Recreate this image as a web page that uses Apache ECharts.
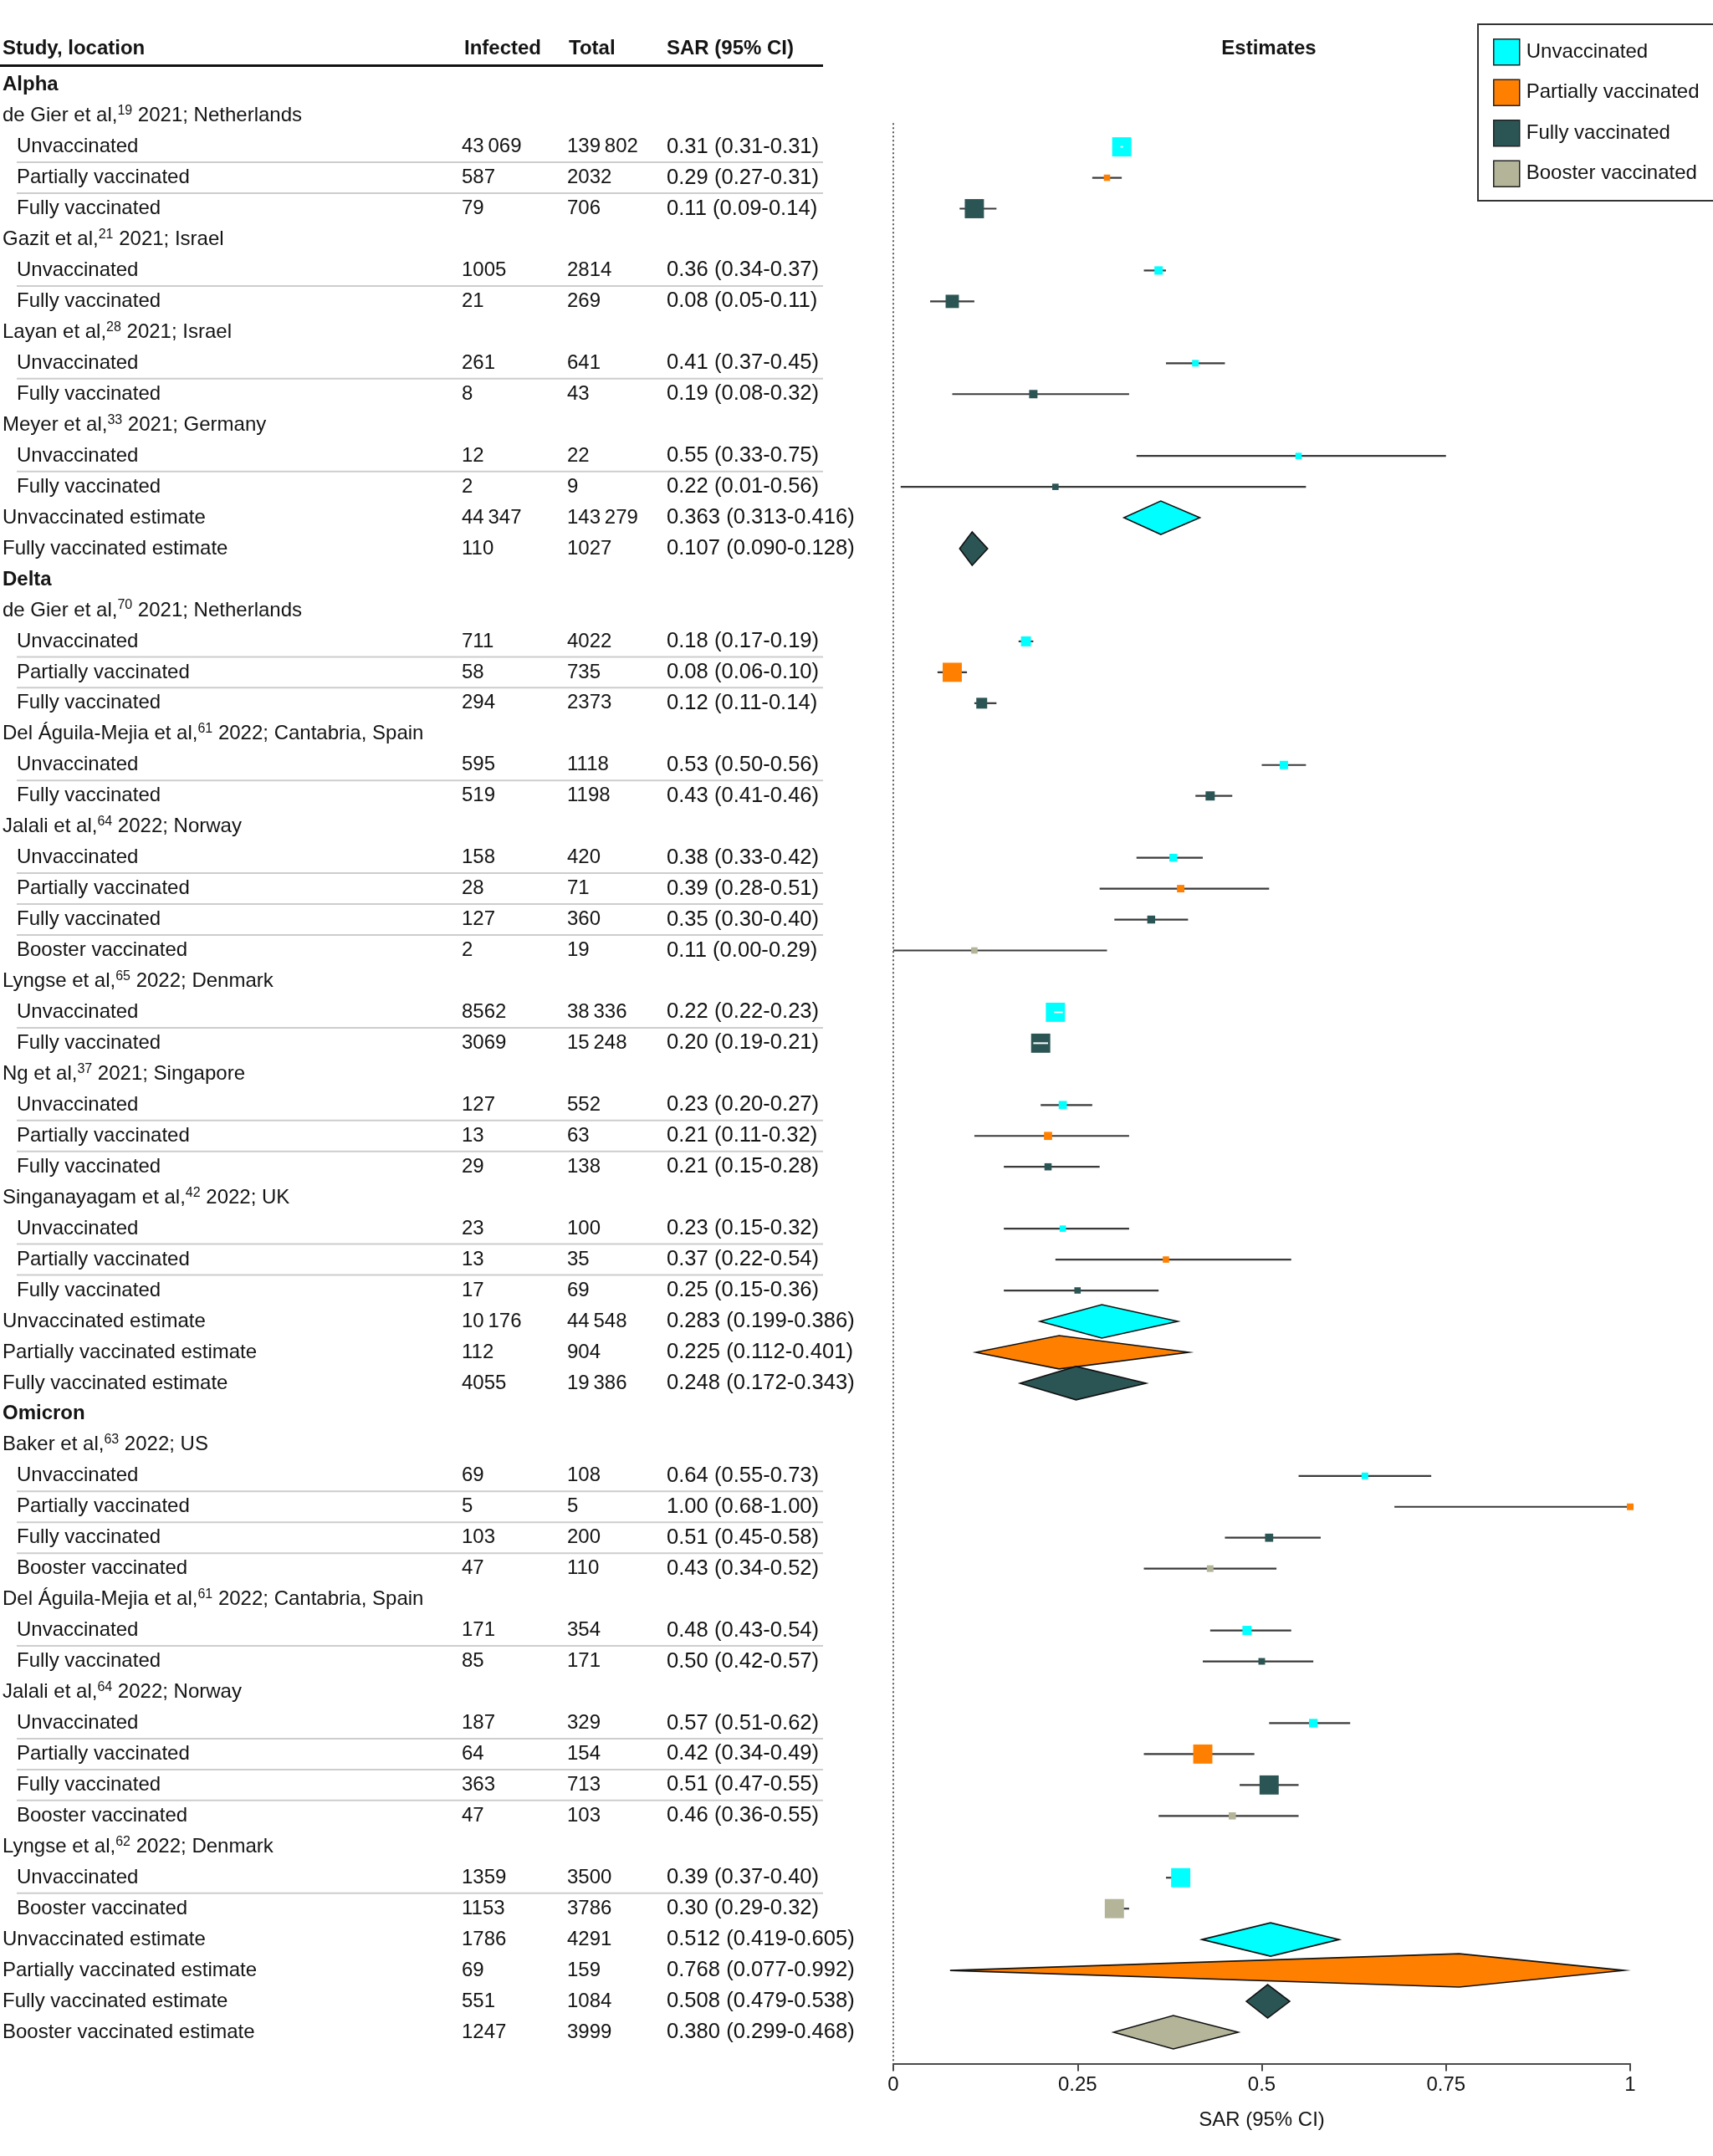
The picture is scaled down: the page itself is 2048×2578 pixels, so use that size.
<!DOCTYPE html>
<html><head><meta charset="utf-8">
<script src="https://cdn.jsdelivr.net/npm/echarts@6/dist/echarts.min.js"></script>
<style>html,body{margin:0;padding:0;background:#fff}#c{width:2048px;height:2578px}</style>
</head><body><div id="c"></div>
<script>
// ---------- DATA ----------
const rowKind = [
  'variant','study','sub','sub','sub','study','sub','sub','study','sub','sub','study','sub','sub','est','est',
  'variant','study','sub','sub','sub','study','sub','sub','study','sub','sub','sub','sub','study','sub','sub','study','sub','sub','sub','study','sub','sub','sub','est','est','est',
  'variant','study','sub','sub','sub','sub','study','sub','sub','study','sub','sub','sub','sub','study','sub','sub','est','est','est','est'
];
const rowLabel = [
  'Alpha',
  'de Gier et al,|19| 2021; Netherlands',
  'Unvaccinated','Partially vaccinated','Fully vaccinated',
  'Gazit et al,|21| 2021; Israel',
  'Unvaccinated','Fully vaccinated',
  'Layan et al,|28| 2021; Israel',
  'Unvaccinated','Fully vaccinated',
  'Meyer et al,|33| 2021; Germany',
  'Unvaccinated','Fully vaccinated',
  'Unvaccinated estimate','Fully vaccinated estimate',
  'Delta',
  'de Gier et al,|70| 2021; Netherlands',
  'Unvaccinated','Partially vaccinated','Fully vaccinated',
  'Del Águila-Mejia et al,|61| 2022; Cantabria, Spain',
  'Unvaccinated','Fully vaccinated',
  'Jalali et al,|64| 2022; Norway',
  'Unvaccinated','Partially vaccinated','Fully vaccinated','Booster vaccinated',
  'Lyngse et al,|65| 2022; Denmark',
  'Unvaccinated','Fully vaccinated',
  'Ng et al,|37| 2021; Singapore',
  'Unvaccinated','Partially vaccinated','Fully vaccinated',
  'Singanayagam et al,|42| 2022; UK',
  'Unvaccinated','Partially vaccinated','Fully vaccinated',
  'Unvaccinated estimate','Partially vaccinated estimate','Fully vaccinated estimate',
  'Omicron',
  'Baker et al,|63| 2022; US',
  'Unvaccinated','Partially vaccinated','Fully vaccinated','Booster vaccinated',
  'Del Águila-Mejia et al,|61| 2022; Cantabria, Spain',
  'Unvaccinated','Fully vaccinated',
  'Jalali et al,|64| 2022; Norway',
  'Unvaccinated','Partially vaccinated','Fully vaccinated','Booster vaccinated',
  'Lyngse et al,|62| 2022; Denmark',
  'Unvaccinated','Booster vaccinated',
  'Unvaccinated estimate','Partially vaccinated estimate','Fully vaccinated estimate','Booster vaccinated estimate'
];
const infected = [
  '','','43\u2009069','587','79','','1005','21','','261','8','','12','2','44\u2009347','110',
  '','','711','58','294','','595','519','','158','28','127','2','','8562','3069','','127','13','29','','23','13','17','10\u2009176','112','4055',
  '','','69','5','103','47','','171','85','','187','64','363','47','','1359','1153','1786','69','551','1247'
];
const total = [
  '','','139\u2009802','2032','706','','2814','269','','641','43','','22','9','143\u2009279','1027',
  '','','4022','735','2373','','1118','1198','','420','71','360','19','','38\u2009336','15\u2009248','','552','63','138','','100','35','69','44\u2009548','904','19\u2009386',
  '','','108','5','200','110','','354','171','','329','154','713','103','','3500','3786','4291','159','1084','3999'
];
const sarText = [
  '','','0.31 (0.31-0.31)','0.29 (0.27-0.31)','0.11 (0.09-0.14)','','0.36 (0.34-0.37)','0.08 (0.05-0.11)','','0.41 (0.37-0.45)','0.19 (0.08-0.32)','','0.55 (0.33-0.75)','0.22 (0.01-0.56)','0.363 (0.313-0.416)','0.107 (0.090-0.128)',
  '','','0.18 (0.17-0.19)','0.08 (0.06-0.10)','0.12 (0.11-0.14)','','0.53 (0.50-0.56)','0.43 (0.41-0.46)','','0.38 (0.33-0.42)','0.39 (0.28-0.51)','0.35 (0.30-0.40)','0.11 (0.00-0.29)','','0.22 (0.22-0.23)','0.20 (0.19-0.21)','','0.23 (0.20-0.27)','0.21 (0.11-0.32)','0.21 (0.15-0.28)','','0.23 (0.15-0.32)','0.37 (0.22-0.54)','0.25 (0.15-0.36)','0.283 (0.199-0.386)','0.225 (0.112-0.401)','0.248 (0.172-0.343)',
  '','','0.64 (0.55-0.73)','1.00 (0.68-1.00)','0.51 (0.45-0.58)','0.43 (0.34-0.52)','','0.48 (0.43-0.54)','0.50 (0.42-0.57)','','0.57 (0.51-0.62)','0.42 (0.34-0.49)','0.51 (0.47-0.55)','0.46 (0.36-0.55)','','0.39 (0.37-0.40)','0.30 (0.29-0.32)','0.512 (0.419-0.605)','0.768 (0.077-0.992)','0.508 (0.479-0.538)','0.380 (0.299-0.468)'
];
const status = [
  '','','U','P','F','','U','F','','U','F','','U','F','U','F',
  '','','U','P','F','','U','F','','U','P','F','B','','U','F','','U','P','F','','U','P','F','U','P','F',
  '','','U','P','F','B','','U','F','','U','P','F','B','','U','B','U','P','F','B'
];
const est = [
  null,null,0.31,0.29,0.11,null,0.36,0.08,null,0.41,0.19,null,0.55,0.22,0.363,0.107,
  null,null,0.18,0.08,0.12,null,0.53,0.43,null,0.38,0.39,0.35,0.11,null,0.22,0.20,null,0.23,0.21,0.21,null,0.23,0.37,0.25,0.283,0.225,0.248,
  null,null,0.64,1.00,0.51,0.43,null,0.48,0.50,null,0.57,0.42,0.51,0.46,null,0.39,0.30,0.512,0.768,0.508,0.380
];
const lo = [
  null,null,0.31,0.27,0.09,null,0.34,0.05,null,0.37,0.08,null,0.33,0.01,0.313,0.090,
  null,null,0.17,0.06,0.11,null,0.50,0.41,null,0.33,0.28,0.30,0.00,null,0.22,0.19,null,0.20,0.11,0.15,null,0.15,0.22,0.15,0.199,0.112,0.172,
  null,null,0.55,0.68,0.45,0.34,null,0.43,0.42,null,0.51,0.34,0.47,0.36,null,0.37,0.29,0.419,0.077,0.479,0.299
];
const hi = [
  null,null,0.31,0.31,0.14,null,0.37,0.11,null,0.45,0.32,null,0.75,0.56,0.416,0.128,
  null,null,0.19,0.10,0.14,null,0.56,0.46,null,0.42,0.51,0.40,0.29,null,0.23,0.21,null,0.27,0.32,0.28,null,0.32,0.54,0.36,0.386,0.401,0.343,
  null,null,0.73,1.00,0.58,0.52,null,0.54,0.57,null,0.62,0.49,0.55,0.55,null,0.40,0.32,0.605,0.992,0.538,0.468
];
// relative study weight (box area, largest = 100)
const weight = [
  0,0,100,11,100,0,19,48,0,12,19,0,11,11,0,0,
  0,0,27,100,32,0,19,23,0,17,15,17,11,0,100,100,0,18,18,14,0,11,11,11,0,0,0,
  0,0,12,12,18,12,0,23,12,0,20,100,100,14,0,100,100,0,0,0,0
];
const statusCodes = ['U','P','F','B'];
const statusNames = ['Unvaccinated','Partially vaccinated','Fully vaccinated','Booster vaccinated'];
const statusColors = ['#00FFFF','#FF8000','#2B5554','#B3B498'];
const xTickLabels = ['0','0.25','0.5','0.75','1'];
const headers = ['Study, location','Infected','Total','SAR (95% CI)','Estimates'];

// ---------- LAYOUT ----------
const FONT = '"Liberation Sans", Arial, sans-serif';
const TXT = '#141414';
const GRID_TOP = 83.2, GRID_BOTTOM = 129.5, AXIS_OFFSET = 19;
const COL_NAME = 3, COL_SUB = 20, COL_INF = 552, COL_TOT = 678, COL_SAR = 797, TABLE_RIGHT = 984;

const chart = echarts.init(document.getElementById('c'), null, {renderer: 'canvas', width: 2048, height: 2578});

function renderTable(params, api) {
  const i = api.value(1);
  const y = api.coord([0, i])[1];
  const band = api.size([0, 1])[1];
  const kind = rowKind[i];
  const children = [];
  const xName = api.coord([kind === 'sub' ? COL_SUB : COL_NAME, i])[0];
  const label = rowLabel[i];
  if (kind === 'study') {
    const parts = label.split('|');
    children.push({type: 'text', x: xName, y: y, style: {
      text: '{n|' + parts[0] + '}{s|' + parts[1] + '}{n|' + parts[2] + '}',
      verticalAlign: 'middle', align: 'left',
      rich: {
        n: {fontSize: 24, fontFamily: FONT, fill: TXT, lineHeight: 28},
        s: {fontSize: 16, fontFamily: FONT, fill: TXT, lineHeight: 20, verticalAlign: 'top'}
      }
    }});
  } else {
    children.push({type: 'text', x: xName, y: y, style: {
      text: label, fontSize: 24, fontFamily: FONT, fontWeight: kind === 'variant' ? 'bold' : 'normal',
      fill: TXT, verticalAlign: 'middle', align: 'left'
    }});
  }
  [[COL_INF, infected[i], 24], [COL_TOT, total[i], 24], [COL_SAR, sarText[i], 25.6]].forEach(function (c) {
    if (!c[1]) return;
    children.push({type: 'text', x: api.coord([c[0], i])[0], y: y, style: {
      text: c[1], fontSize: c[2], fontFamily: FONT, fill: TXT, verticalAlign: 'middle', align: 'left'
    }});
  });
  if (kind === 'sub' && rowKind[i + 1] === 'sub') {
    const yl = y + band / 2;
    children.push({type: 'line', shape: {x1: api.coord([COL_SUB, i])[0], y1: yl, x2: api.coord([TABLE_RIGHT, i])[0], y2: yl},
      style: {stroke: '#cdcdcd', lineWidth: 2}});
  }
  return {type: 'group', children: children};
}

function renderForest(params, api) {
  const e = api.value(0), row = api.value(1), l = api.value(2), h = api.value(3), w = api.value(4), isEst = api.value(5);
  const p = api.coord([e, row]);
  const xl = api.coord([l, row])[0], xh = api.coord([h, row])[0];
  const band = api.size([0, 1])[1];
  const color = api.visual('color');
  if (isEst) {
    const dh = band * 0.54;
    return {type: 'polygon', shape: {points: [[xl, p[1]], [p[0], p[1] - dh], [xh, p[1]], [p[0], p[1] + dh]]},
      style: {fill: color, stroke: '#111', lineWidth: 1.6}};
  }
  const side = band * 0.62 * Math.sqrt(w / 100);
  const children = [
    {type: 'line', shape: {x1: xl, y1: p[1], x2: xh, y2: p[1]}, style: {stroke: '#3a3a3a', lineWidth: 2.2}},
    {type: 'rect', shape: {x: p[0] - side / 2, y: p[1] - side / 2, width: side, height: side}, style: {fill: color}}
  ];
  if (xh - xl < side) {
    const a = Math.min(xl, p[0] - 1.5), b = Math.max(xh, p[0] + 1.5);
    children.push({type: 'line', shape: {x1: a, y1: p[1], x2: b, y2: p[1]}, style: {stroke: '#ffffff', lineWidth: 2}});
  }
  return {type: 'group', children: children};
}

function renderNullLine(params, api) {
  const band = api.size([0, 1])[1];
  const top = api.coord([0, 1]);
  const cs = params.coordSys;
  return {type: 'line', shape: {x1: top[0], y1: top[1] + band * 0.23, x2: top[0], y2: cs.y + cs.height + AXIS_OFFSET},
    style: {stroke: '#333', lineWidth: 1.6, lineDash: [2, 3]}};
}

const forestSeries = statusCodes.map(function (code, k) {
  const data = [];
  status.forEach(function (s, i) {
    if (s === code) data.push([est[i], i, lo[i], hi[i], weight[i], rowKind[i] === 'est' ? 1 : 0]);
  });
  return {
    type: 'custom', name: statusNames[k], xAxisIndex: 0, yAxisIndex: 0, clip: false,
    itemStyle: {color: statusColors[k]}, encode: {x: 0, y: 1}, data: data, renderItem: renderForest, z: 3
  };
});

const option = {
  animation: false,
  backgroundColor: '#ffffff',
  textStyle: {fontFamily: FONT},
  grid: [
    {left: 1068, right: 99, top: GRID_TOP, bottom: GRID_BOTTOM},
    {left: 0, width: 1040, top: GRID_TOP, bottom: GRID_BOTTOM}
  ],
  xAxis: [
    {type: 'value', gridIndex: 0, min: 0, max: 1, interval: 0.25, offset: AXIS_OFFSET,
      axisLine: {show: true, lineStyle: {color: '#4a4a4a', width: 2}},
      axisTick: {show: true, length: 9, lineStyle: {color: '#4a4a4a', width: 2}},
      splitLine: {show: false},
      axisLabel: {fontSize: 24, fontFamily: FONT, color: TXT, margin: 14,
        formatter: function (v) { return xTickLabels[Math.round(v / 0.25)]; }},
      name: 'SAR (95% CI)', nameLocation: 'middle', nameGap: 56,
      nameTextStyle: {fontSize: 24, fontFamily: FONT, color: TXT}},
    {type: 'value', gridIndex: 1, min: 0, max: 1040, show: false}
  ],
  yAxis: [
    {type: 'category', gridIndex: 0, inverse: true, data: rowLabel.map(function (s) { return s.replace(/\|/g, ''); }), show: false},
    {type: 'category', gridIndex: 1, inverse: true, data: rowLabel.map(function (s) { return s.replace(/\|/g, ''); }), show: false}
  ],
  legend: {
    show: true, orient: 'vertical', left: 1767, top: 29, selectedMode: false,
    data: statusNames, icon: 'rect', itemWidth: 31, itemHeight: 31, itemGap: 16,
    padding: [17, 18, 16, 18], borderColor: '#333', borderWidth: 2,
    itemStyle: {borderColor: '#222', borderWidth: 1.5},
    textStyle: {fontSize: 24, fontFamily: FONT, color: TXT, padding: [0, 0, 0, 3]}
  },
  graphic: [
    {type: 'text', x: 3, y: 58, style: {text: headers[0], font: 'bold 24px ' + FONT, fill: TXT, verticalAlign: 'middle', align: 'left'}},
    {type: 'text', x: 555, y: 58, style: {text: headers[1], font: 'bold 24px ' + FONT, fill: TXT, verticalAlign: 'middle', align: 'left'}},
    {type: 'text', x: 680, y: 58, style: {text: headers[2], font: 'bold 24px ' + FONT, fill: TXT, verticalAlign: 'middle', align: 'left'}},
    {type: 'text', x: 797, y: 58, style: {text: headers[3], font: 'bold 24px ' + FONT, fill: TXT, verticalAlign: 'middle', align: 'left'}},
    {type: 'text', x: 1517, y: 58, style: {text: headers[4], font: 'bold 24px ' + FONT, fill: TXT, verticalAlign: 'middle', align: 'center'}},
    {type: 'line', shape: {x1: 0, y1: 78.5, x2: TABLE_RIGHT, y2: 78.5}, style: {stroke: '#111', lineWidth: 3}}
  ],
  series: [
    {type: 'custom', name: 'null line', xAxisIndex: 0, yAxisIndex: 0, clip: false, data: [[0, 1]],
      encode: {x: 0, y: 1}, renderItem: renderNullLine, z: 1, silent: true},
    {type: 'custom', name: 'table', xAxisIndex: 1, yAxisIndex: 1, clip: false,
      data: rowLabel.map(function (_, i) { return [0, i]; }), encode: {x: 0, y: 1}, renderItem: renderTable, silent: true}
  ].concat(forestSeries)
};
chart.setOption(option);
</script>
</body></html>
